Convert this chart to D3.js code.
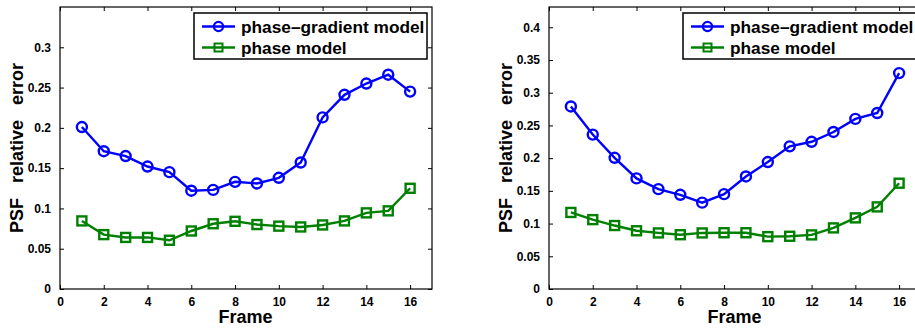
<!DOCTYPE html>
<html>
<head>
<meta charset="utf-8">
<script src="https://cdn.jsdelivr.net/npm/d3@7"></script>
<style>
  body { margin: 0; background: #fff; }
  svg { display: block; }
  text { font-family: "Liberation Sans", Arial, Helvetica, sans-serif; font-weight: bold; fill: #000; }
</style>
</head>
<body>
<svg id="chart" width="915" height="329"></svg>
<script>
// frame numbers (shared by both panels)
var frames = [1, 2, 3, 4, 5, 6, 7, 8, 9, 10, 11, 12, 13, 14, 15, 16];

// left panel
var leftGradient = [0.201, 0.171, 0.165, 0.152, 0.145, 0.122, 0.123, 0.133, 0.131, 0.138, 0.157, 0.213, 0.241, 0.255, 0.266, 0.245];
var leftPhase    = [0.0845, 0.0675, 0.064, 0.064, 0.0605, 0.072, 0.081, 0.084, 0.080, 0.078, 0.077, 0.0795, 0.0845, 0.0945, 0.097, 0.125];

// right panel
var rightGradient = [0.279, 0.236, 0.2005, 0.169, 0.1526, 0.144, 0.132, 0.145, 0.172, 0.194, 0.218, 0.225, 0.240, 0.260, 0.269, 0.330];
var rightPhase    = [0.117, 0.106, 0.097, 0.089, 0.0857, 0.083, 0.0857, 0.086, 0.086, 0.080, 0.0806, 0.0827, 0.0934, 0.1087, 0.1255, 0.1617];

var xTicks = [0, 2, 4, 6, 8, 10, 12, 14, 16];
var leftYTicks = [0, 0.05, 0.1, 0.15, 0.2, 0.25, 0.3];
var rightYTicks = [0, 0.05, 0.1, 0.15, 0.2, 0.25, 0.3, 0.35, 0.4];

var seriesNames = ["phase\u2013gradient model", "phase model"];
var blue = "#0000ff", green = "#008000";

var svg = d3.select("#chart");

function fmt(d){
    return d === 0 ? "0" : String(+d.toFixed(2));
}

function drawPanel(left, right, yMax, yTicks, gradient, phase){
    var top = 7, bottom = 289;

    var x = d3.scaleLinear().domain([0, 17]).range([left, right]);
    var y = d3.scaleLinear().domain([0, yMax]).range([bottom, top]);

    var g = svg.append("g");

    // axes with inward ticks, mirrored on top/right
    g.append("g")
        .attr("transform", "translate(0," + bottom + ")")
        .call(d3.axisBottom(x).tickValues(xTicks).tickSizeInner(-4).tickSizeOuter(0).tickPadding(8).tickFormat(d3.format("d")))
        .call(function(a){ a.selectAll("text").style("font-size", "12px"); });

    g.append("g")
        .attr("transform", "translate(0," + top + ")")
        .call(d3.axisTop(x).tickValues(xTicks).tickSizeInner(-4).tickSizeOuter(0).tickFormat(""));

    g.append("g")
        .attr("transform", "translate(" + left + ",0)")
        .call(d3.axisLeft(y).tickValues(yTicks).tickSizeInner(-4).tickSizeOuter(0).tickPadding(9).tickFormat(fmt))
        .call(function(a){ a.selectAll("text").style("font-size", "12px"); });

    g.append("g")
        .attr("transform", "translate(" + right + ",0)")
        .call(d3.axisRight(y).tickValues(yTicks).tickSizeInner(-4).tickSizeOuter(0).tickFormat(""));

    g.selectAll(".domain").remove();
    g.selectAll(".tick line").attr("stroke", "#000");

    g.append("rect")
        .attr("x", left).attr("y", top)
        .attr("width", right - left).attr("height", bottom - top)
        .attr("fill", "none").attr("stroke", "#000").attr("stroke-width", 1.2);

    var line = d3.line()
        .x(function(d, i){ return x(frames[i]); })
        .y(function(d){ return y(d); });

    // phase model (green squares)
    g.append("path").datum(phase)
        .attr("d", line).attr("fill", "none")
        .attr("stroke", green).attr("stroke-width", 2.4);
    g.selectAll(".sq").data(phase).enter().append("rect")
        .attr("x", function(d, i){ return x(frames[i]) - 4.5; })
        .attr("y", function(d){ return y(d) - 4.5; })
        .attr("width", 9).attr("height", 9)
        .attr("fill", "none").attr("stroke", green).attr("stroke-width", 2.4);

    // phase-gradient model (blue circles)
    g.append("path").datum(gradient)
        .attr("d", line).attr("fill", "none")
        .attr("stroke", blue).attr("stroke-width", 2.4);
    g.selectAll(".ci").data(gradient).enter().append("circle")
        .attr("cx", function(d, i){ return x(frames[i]); })
        .attr("cy", function(d){ return y(d); })
        .attr("r", 5)
        .attr("fill", "none").attr("stroke", blue).attr("stroke-width", 2.4);

    // axis labels
    g.append("text")
        .attr("x", (left + right) / 2 - 0.5).attr("y", 323)
        .attr("text-anchor", "middle")
        .style("font-size", "18px")
        .text("Frame");

    g.append("text")
        .attr("transform", "translate(" + (left - 37) + ",148) rotate(-90)")
        .attr("text-anchor", "middle")
        .style("font-size", "18px")
        .text("PSF\u00a0\u00a0\u00a0relative\u00a0\u00a0\u00a0error");

    // legend
    var lx = right - 238, ly = 13;
    var leg = g.append("g").attr("transform", "translate(" + lx + "," + ly + ")");
    leg.append("rect")
        .attr("width", 233).attr("height", 46)
        .attr("fill", "#fff").attr("stroke", "#000").attr("stroke-width", 1.5);

    var rows = [
        {name: seriesNames[0], color: blue, shape: "circle", cy: 13.5},
        {name: seriesNames[1], color: green, shape: "square", cy: 34.5}
    ];
    rows.forEach(function(r){
        leg.append("line")
            .attr("x1", 8).attr("x2", 41).attr("y1", r.cy).attr("y2", r.cy)
            .attr("stroke", r.color).attr("stroke-width", 2.4);
        if (r.shape === "circle") {
            leg.append("circle").attr("cx", 24.5).attr("cy", r.cy).attr("r", 4.6)
                .attr("fill", "none").attr("stroke", r.color).attr("stroke-width", 2.2);
        } else {
            leg.append("rect").attr("x", 20.5).attr("y", r.cy - 4).attr("width", 8).attr("height", 8)
                .attr("fill", "none").attr("stroke", r.color).attr("stroke-width", 2);
        }
        leg.append("text")
            .attr("x", 47).attr("y", r.cy + 6)
            .style("font-size", "17.3px")
            .text(r.name);
    });
}

drawPanel(60, 432, 0.35, leftYTicks, leftGradient, leftPhase);
drawPanel(549, 921, 0.431, rightYTicks, rightGradient, rightPhase);
</script>
</body>
</html>
